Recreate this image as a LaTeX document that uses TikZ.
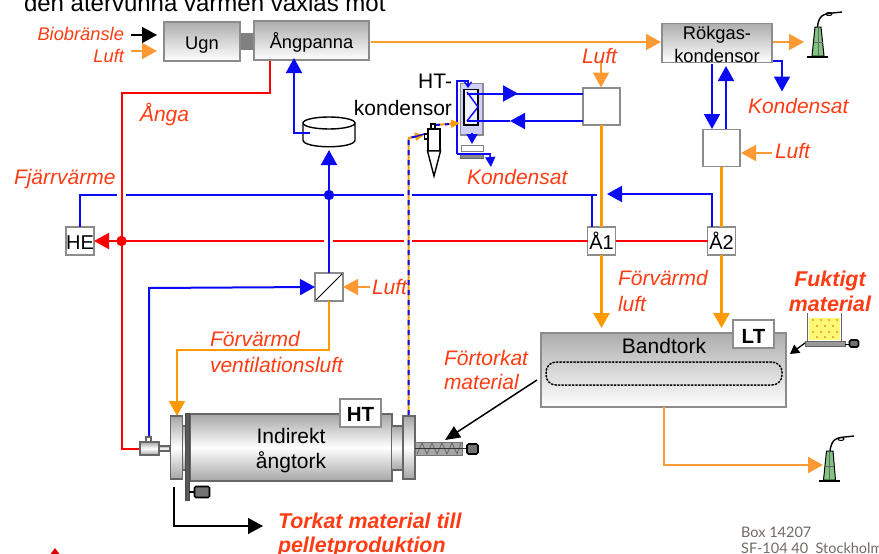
\documentclass[tikz,border=0pt]{standalone}
\usepackage{fontspec}
\setmainfont{Liberation Sans}
\newfontfamily\boxfont{Lato}
\usetikzlibrary{arrows.meta,calc}
\definecolor{lblred}{RGB}{255,60,20}
\definecolor{myblue}{RGB}{10,10,245}
\definecolor{myorange}{RGB}{255,153,0}
\definecolor{lorange}{RGB}{255,153,51}
\definecolor{myred}{RGB}{255,0,0}
\definecolor{edgegray}{RGB}{140,140,140}
\definecolor{stackgreen}{RGB}{130,195,130}
\definecolor{addrgray}{RGB}{112,106,98}
\tikzset{
  x=1pt,y=-1pt,
  tbig/.style={font=\fontsize{21}{24}\selectfont,inner sep=0pt,outer sep=0pt,anchor=base},
  tmid/.style={font=\fontsize{18.3}{22}\selectfont,inner sep=0pt,outer sep=0pt,anchor=base},
  lbl/.style={tbig,text=lblred,font=\fontsize{21}{24}\selectfont\itshape,anchor=base west},
  lblsmall/.style={tmid,text=lblred,font=\fontsize{18.3}{22}\selectfont\itshape,anchor=base east},
  lblbold/.style={tbig,text=lblred,font=\fontsize{21.4}{24}\selectfont\bfseries\itshape},
  gbox/.style={draw=edgegray,line width=1.5pt,top color=black!32,bottom color=white,inner sep=0pt,outer sep=0pt},
  wbox/.style={draw=edgegray,line width=1.5pt,fill=white,inner sep=0pt,outer sep=0pt},
  tagbox/.style={wbox,font=\fontsize{20.5}{24}\selectfont\bfseries,minimum width=41pt,minimum height=28pt},
  small/.style={wbox,minimum width=28pt,minimum height=28pt,font=\fontsize{20}{24}\selectfont},
  hx/.style={wbox,minimum width=37pt,minimum height=37pt},
  tipL/.style={-{Triangle[length=15pt,width=16pt]}},
  tipS/.style={-{Triangle[length=10pt,width=11pt]}},
  blueL/.style={draw=myblue,line width=2pt},
  redL/.style={draw=myred,line width=2pt},
  orL/.style={draw=myorange,line width=2.8pt},
  orT/.style={draw=lorange,line width=2pt},
  blk/.style={draw=black,line width=1.6pt},
  metal/.style={draw=black!60,line width=1.4pt,top color=black!35,bottom color=black!35,middle color=white},
  motor/.style={draw=black,line width=1.6pt,fill=black!55,rounded corners=1.5pt},
  stackbody/.style={draw=black,line width=1pt,fill=stackgreen},
}
\begin{document}
\begin{tikzpicture}
\useasboundingbox (0,0) rectangle (879,554);
\clip (0,0) rectangle (879,554);
% --- top text
\node[tbig,font=\fontsize{24}{28}\selectfont,anchor=base west] (toptext) at (24,12) {den återvunna värmen växlas mot};
% --- boxes
\node[draw=none,fill=black!50,minimum width=16pt,minimum height=17pt,inner sep=0pt] (joint) at (247,41.5) {};
\node[gbox,minimum width=76pt,minimum height=39pt] (ugn) at (202,41.5) {};
\node[tmid] (ugnT) at (202,49) {Ugn};
\node[gbox,minimum width=115pt,minimum height=39pt] (pan) at (311.5,40.5) {};
\node[tmid] (panT) at (311.5,48) {Ångpanna};
\node[gbox,minimum width=110pt,minimum height=39pt] (rok) at (717,43) {};
\node[tmid] (rokA) at (717,39) {Rökgas-};
\node[tmid] (rokB) at (717,62) {kondensor};
\node[hx] (hxL) at (601.5,106.5) {};
\node[hx] (hxR) at (721.5,148) {};
\node[small] (he) at (80,241) {};
\node[tbig,font=\fontsize{20}{24}\selectfont] (heT) at (80,249) {HE};
\node[small] (a1) at (601.5,241) {};
\node[small] (a2) at (721.5,241) {};
\node[gbox,minimum width=245pt,minimum height=74pt] (band) at (663.5,370) {};
\node[tbig] (bandT) at (664,353) {Bandtork};
\draw[black,line width=1.5pt,dotted,line cap=round,rounded corners=10pt] (546,362) rectangle (782,385);
\node[tagbox] (lt) at (753.5,334) {};
\node[tbig,font=\fontsize{20.5}{24}\selectfont\bfseries] (ltT) at (753.5,343) {LT};
% --- coordinates for connector ends
\coordinate (bioS) at (131,35);  \coordinate (bioE) at (157,35);
\coordinate (luS) at (131,51);   \coordinate (luE) at (157,51);
\coordinate (panOut) at (371,42); \coordinate (rokIn) at (661,42);
\coordinate (rokOut) at (773,42); \coordinate (stk1) at (804,42);
\coordinate (ck) at (773,61); \coordinate (ck1) at (782,61); \coordinate (ck2) at (782,91.5);
\coordinate (lfa) at (601,62); \coordinate (lfb) at (601,87.5);
\coordinate (lrb) at (772,153); \coordinate (lra) at (741,153);
% --- red steam
\draw[draw=myred,line width=2.6pt,line join=miter] (270,61) -- (270,93) -- (122,93) -- (122,449) -- (141,449);
\fill[myred] (121.5,241) circle (5.2);
\coordinate (r1) at (110,241);
\draw[redL,tipL] (r1) -- (he.east);
\draw[redL] (r1) -- (324,241);
\draw[redL] (333,241) -- (404,241);
\draw[redL] (412,241) -- (a1.west);
\draw[redL] (a1.east) -- (a2.west);
% --- blue y=195
\draw[blueL] (80,227) -- (80,195) -- (117,195);
\draw[blueL] (126,195) -- (404,195);
\draw[blueL] (412,195) -- (597,195);
\draw[blueL] (592,195) -- (592,227);
\draw[blueL,tipL] (712,227) -- (712,194) -- (607,194);
\fill[myblue] (329,195) circle (5.2);
% --- orange verticals
\draw[orL] (hxL.south) -- (a1.north);
\draw[orL,tipL] (a1.south) -- (601.5,328);
\draw[orL] (hxR.south) -- (a2.north);
\draw[orL,tipL] (a2.south) -- (721.5,328);
% --- Rökgas connections
\draw[lorange,line width=2pt,tipL] (panOut) -- (rokIn);
\draw[lorange,line width=2pt,tipL] (rokOut) -- (stk1);
\draw[blueL,tipL] (ck) -- (ck1) -- (ck2);
\draw[blueL,tipL] (712,64) -- (712,129);
\draw[blueL,tipL] (726,129) -- (726,66);
\draw[orT,tipL] (lfa) -- (lfb);
\draw[orT,tipL] (lrb) -- (lra);
\draw[black,line width=1.6pt,tipL] (bioS) -- (bioE);
\draw[orT,tipL] (luS) -- (luE);
% --- tank
\coordinate (tankIn) at (329,272);
\draw[black,line width=1.4pt,fill=white] (303,124) -- (303,140) .. controls (303,149) and (355,149) .. (355,140) -- (355,124);
\draw[black,line width=1.4pt,fill=white] (329,123) ellipse (26 and 6);
\draw[blueL,tipL] (tankIn) -- (329,150);
\draw[blueL,tipL] (310,133) -- (294,133) -- (294,58);
% --- HT condenser
\draw[draw=black!45,line width=1.4pt,fill=blue!18] (460.5,83.5) rectangle (483,135);
\draw[black,line width=1.4pt,fill=blue!5] (464,89.5) rectangle (478,125);
\draw[draw=myblue,line width=1.4pt] (467,92) -- (478,107) -- (467,121);
\draw[blueL] (467,93.5) -- (500,93.5);
\draw[blueL,tipL] (500,93.5) -- (518,93.5);
\draw[blueL] (hxL.west |- 0,93.5) -- (510,93.5);
\draw[blueL,tipL] (hxL.west |- 0,121) -- (510,121);
\draw[blueL] (510,121) -- (467,121);
\draw[draw=myblue,line width=1.4pt,-{Straight Barb[length=5pt,width=7pt]}] (457,154) -- (457,81) -- (468,81) -- (468,88);
\draw[draw=myblue,line width=1.4pt,tipS] (472,133) -- (472,144);
\draw[draw=black!50,line width=1pt,fill=white] (461,145) rectangle (483,151);
\draw[draw=black!60,line width=1pt,fill=black!45] (460,154.5) rectangle (483,158);
\draw[draw=myblue,line width=1.6pt,-{Triangle[length=10pt,width=10pt]}] (457,154) -- (490,154) -- (491,167);
% --- cyclone
\draw[black,line width=1.4pt,fill=white] (431,124) rectangle (435,129);
\draw[black,line width=1.4pt,fill=white] (424.5,134) rectangle (428.5,139);
\draw[black,line width=1.4pt,fill=white] (428,129) rectangle (440,151);
\draw[black,line width=1.4pt,fill=white] (427.5,151) -- (440.5,151) -- (434,176) -- cycle;
% --- dashed flue gas
\coordinate (dA) at (408.5,415); \coordinate (dB) at (408.5,138); \coordinate (dC) at (424,135);
\coordinate (dD) at (436,125); \coordinate (dE) at (460,123);
\draw[draw=myorange,line width=2pt,-{Triangle[length=9pt,width=8pt]}] (dA) -- (dB) -- (dC);
\draw[draw=myblue,line width=2pt,dash pattern=on 5pt off 5pt] (dA) -- (dB) -- (416,136.5);
\draw[draw=myblue,line width=1.4pt] (416,136.5) -- (424,134);
\draw[draw=myorange,line width=2pt,-{Triangle[length=9pt,width=8pt]}] (dD) -- (dE);
\draw[draw=myblue,line width=2pt,dash pattern=on 4pt off 5pt] (dD) -- (450,124);
% --- stacks
\draw[stackbody] (812,56) -- (815,27) -- (821,27) -- (824,56) -- cycle;
\draw[black!60,line width=.5pt] (813.5,42) -- (822.5,42) (818,27) -- (818,56);
\draw[black,line width=1.6pt] (807,57) -- (828,57);
\draw[black,line width=1.4pt] (817.5,27) .. controls (819,12) and (826,14) .. (842,12);
\draw[black,line width=1pt] (829,14) ellipse (3 and 1.5);
\draw[stackbody] (823.5,480) -- (826.5,451) -- (833,451) -- (835.5,480) -- cycle;
\draw[black!60,line width=.5pt] (825,466) -- (834,466) (829.5,451) -- (829.5,480);
\draw[black,line width=1.6pt] (819,481) -- (840,481);
\draw[black,line width=1.4pt] (830,451) .. controls (832,436) and (838,438) .. (854,436);
\draw[black,line width=1pt] (841,439) ellipse (3 and 1.5);
% --- Bandtork exhaust
\coordinate (stk2) at (823,465);
\draw[lorange,line width=2pt,tipL] (band.south) -- (663.5,465) -- (stk2);
% --- preheater
\node[wbox,minimum width=28pt,minimum height=28pt] (filt) at (329,287) {};
\draw[black,line width=1pt] (316,300) -- (342,274);
\draw[blueL] (filt.north) -- (tankIn);
\draw[blueL,tipL] (149,437) -- (149,288) -- (filt.west);
\coordinate (lfil) at (370,287);
\draw[orT,tipL] (lfil) -- (filt.east);
\draw[draw=myorange,line width=2pt,tipL] (filt.south) -- (329,350) -- (177,350) -- (177,416);
% --- dryer
\node[metal,minimum width=12pt,minimum height=44pt,inner sep=0pt] (neckL) at (186,448) {};
\node[metal,minimum width=202pt,minimum height=67pt,inner sep=0pt] (dryer) at (291,447.5) {};
\node[tbig] (dryA) at (291,443) {Indirekt};
\node[tbig] (dryB) at (291,468) {ångtork};
\node[metal,minimum width=12pt,minimum height=44pt,inner sep=0pt] (neckR) at (397.5,448) {};
\node[metal,minimum width=12pt,minimum height=63pt,inner sep=0pt] (flL) at (176.5,447.5) {};
\node[metal,minimum width=12pt,minimum height=63pt,inner sep=0pt] (flR) at (409,447.5) {};
\draw[draw=black!70,fill=black!65,line width=.5pt] (185,413) rectangle (189,500);
\node[tagbox] (ht) at (360.5,413) {};
\node[tbig,font=\fontsize{20.5}{24}\selectfont\bfseries] (htT) at (360.5,421) {HT};
% --- burner
\node[metal,minimum width=11pt,minimum height=5pt,inner sep=0pt] (pipe) at (164.5,448.5) {};
\draw[draw=black!60,line width=1.2pt,fill=white] (146,437) rectangle (151,442);
\node[metal,minimum width=19pt,minimum height=13pt,inner sep=0pt] (burn) at (149.5,448.5) {};
% --- motors, screw
\draw[black,line width=1.4pt] (189,492) -- (195,492);
\node[motor,minimum width=15pt,minimum height=11pt,inner sep=0pt] (m1) at (202,492) {};
\draw[draw=black!55,line width=1pt,fill=black!35] (415,442) rectangle (462,455);
\draw[black!60,line width=.8pt] (417,454) -- (422,443) -- (427,454) -- (432,443) -- (437,454) -- (442,443) -- (447,454) -- (452,443) -- (457,454) -- (461,443);
\draw[black!80,line width=1pt] (415,448.5) -- (466,448.5);
\node[motor,minimum width=11pt,minimum height=10pt,inner sep=0pt] (m2) at (472.5,449) {};
% --- wet material bin
\draw[draw=none,fill=yellow!55] (809,318) rectangle (840,340);
\foreach \px/\py in {813/320,821/320,829/320,837/320,817/326,825/326,833/326,813/332,821/332,829/332,837/332,817/337,825/337,833/337}
  \fill[orange!80!black] (\px,\py) circle (.8);
\draw[draw=black!60,line width=1.2pt] (807.5,313) -- (807.5,341) (841.5,313) -- (841.5,341);
\draw[draw=black!60,line width=1pt,fill=black!40] (805,341) rectangle (845,346);
\draw[black,line width=1pt] (845,344) -- (849,344);
\node[motor,minimum width=9pt,minimum height=7pt,inner sep=0pt] (m3) at (854,343.5) {};
% --- black arrows
\coordinate (wetA) at (805,343); \coordinate (wetB) at (790,354);
\draw[black,line width=1.3pt,-{Triangle[length=9pt,width=10pt]}] (wetA) -- (wetB);
\coordinate (preA) at (537,380); \coordinate (preB) at (445,440);
\draw[black,line width=1.5pt,-{Triangle[length=15pt,width=13pt]}] (preA) -- (preB);
\coordinate (outA) at (174,487); \coordinate (outB) at (263,526);
\draw[black,line width=1.6pt,tipL] (outA) -- (174,526) -- (outB);
% --- labels
\node[lblsmall] (tBio) at (124,40) {Biobränsle};
\node[lblsmall] (tLuft0) at (124,62) {Luft};
\node[lbl] (tAnga) at (140,121) {Ånga};
\node[lbl] (tFv) at (14,184) {Fjärrvärme};
\node[tbig,anchor=base east] (tHT) at (452,88) {HT-};
\node[tbig,anchor=base east] (tHK) at (452,115) {kondensor};
\node[lbl] (tK1) at (467,184) {Kondensat};
\node[lbl] (tK2) at (748,113) {Kondensat};
\node[lbl] (tL1) at (582,63) {Luft};
\node[lbl] (tL2) at (775,158) {Luft};
\node[lbl] (tL3) at (372,294) {Luft};
\node[tbig,font=\fontsize{20}{24}\selectfont] (tA1) at (601.5,249) {Å1};
\node[tbig,font=\fontsize{20}{24}\selectfont] (tA2) at (721.5,249) {Å2};
\node[lbl] (tF1) at (618,285) {Förvärmd};
\node[lbl] (tF2) at (618,311) {luft};
\node[lbl] (tV1) at (210,346) {Förvärmd};
\node[lbl] (tV2) at (210,372) {ventilationsluft};
\node[lbl] (tP1) at (444,365) {Förtorkat};
\node[lbl] (tP2) at (444,389) {material};
\node[lblbold] (tW1) at (830,286) {Fuktigt};
\node[lblbold] (tW2) at (830,311) {material};
\node[lblbold,anchor=base west] (tD1) at (278,528) {Torkat material till};
\node[lblbold,anchor=base west] (tD2) at (278,552) {pelletproduktion};
\node[inner sep=0pt,anchor=base west,text=addrgray,font=\boxfont\fontsize{14.5}{16}\selectfont] (addr1) at (741,537) {Box 14207};
\node[inner sep=0pt,anchor=base west,text=addrgray,font=\boxfont\fontsize{14.5}{16}\selectfont] (addr2) at (741,553) {SF-104 40~~Stockholm};
\fill[red!85!black] (55,548) -- (61,556) -- (49,556) -- cycle;
\end{tikzpicture}
\end{document}
